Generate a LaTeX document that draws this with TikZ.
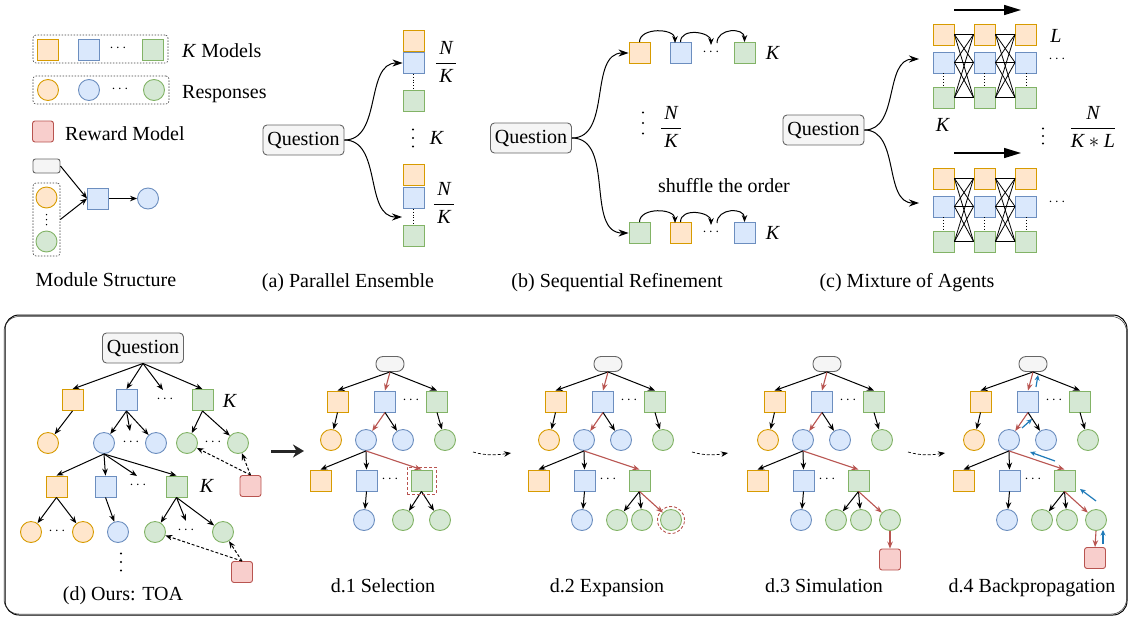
\documentclass[tikz,border=0pt]{standalone}
\usepackage{fontspec}
\setmainfont{Liberation Serif}
\usetikzlibrary{arrows.meta}
\definecolor{ofill}{HTML}{FFE6CC}\definecolor{oline}{HTML}{D79B00}
\definecolor{bfill}{HTML}{DAE8FC}\definecolor{bline}{HTML}{6C8EBF}
\definecolor{gfill}{HTML}{D5E8D4}\definecolor{gline}{HTML}{82B366}
\definecolor{rfill}{HTML}{F8CECC}\definecolor{rline}{HTML}{B85450}
\definecolor{qfill}{HTML}{F5F5F5}\definecolor{qline}{HTML}{666666}
\definecolor{bpblue}{HTML}{1F7AB8}

% three vertical dots drawn as small discs: x, y (centre), spacing, radius
\newcommand\vdotsat[4]{%
 \fill (#1,#2-#3) circle (#4pt);
 \fill (#1,#2) circle (#4pt);
 \fill (#1,#2+#3) circle (#4pt);}

% tree used in d.1 .. d.4 ; #1 prefix, #2 xshift, #3 variant
\newcommand\dtree[3]{%
\begin{scope}[xshift=#2pt]
 \node[pill] (#1r) at (390,364) {};
 \node[osq] (#1a) at (337.5,401.5) {};
 \node[bsq] (#1b) at (385,401.5) {};
 \node[dotx] (#1bd) at (411,400) {$\cdots$};
 \node[gsq] (#1c) at (437,401.5) {};
 \node[oc] (#1ao) at (331,440) {};
 \node[bc] (#1b1) at (366,440) {};
 \node[bc] (#1b2) at (403,440) {};
 \node[gc] (#1co) at (445,440) {};
 \node[osq] (#1d) at (320.5,480.5) {};
 \node[bsq] (#1e) at (366.5,480.5) {};
 \node[dotx] (#1ed) at (390,479) {$\cdots$};
 \node[gsq] (#1f) at (421.5,480.5) {};
 \node[bc] (#1eo) at (364,520) {};
 \draw[arr] (#1r.south) -- (#1a.north);
 \draw[rarr] (#1r.south) -- (#1b.north);
 \draw[arr] (#1r.south) -- (#1c.north);
 \draw[arr] (#1a.south) -- (#1ao);
 \draw[rarr] (#1b.south) -- (#1b1);
 \draw[arr] (#1b.south) -- (#1b2);
 \draw[arr] (#1c.south) -- (#1co);
 \draw[arr] (#1b1.south) -- (#1d.north);
 \draw[arr] (#1b1.south) -- (#1e.north);
 \draw[rarr] (#1b1.south) -- (#1f.north);
 \draw[arr] (#1e.south) -- (#1eo);
 \ifnum#3=0
  \node[gc] (#1f1) at (403,520) {};
  \node[gc] (#1f2) at (440,520) {};
  \draw[arr] (#1f.south) -- (#1f1);
  \draw[arr] (#1f.south) -- (#1f2);
 \else
  \node[gc] (#1f1) at (399,520) {};
  \node[gc] (#1f2) at (424,520) {};
  \node[gc] (#1f3) at (453,520) {};
  \draw[arr] (#1f.south) -- (#1f1);
  \draw[arr] (#1f.south) -- (#1f2);
  \draw[rarr] (#1f.south) -- (#1f3);
 \fi
\end{scope}}

% mixture-of-agents block ; #1 prefix, #2 y of first row
\newcommand\moablock[2]{%
 \foreach \colA/\xx in {1/943.5,2/984.5,3/1026}{
   \node[osq] (#1\colA o) at (\xx,#2) {};
   \node[bsq] (#1\colA b) at (\xx,#2+28) {};
   \node[gsq] (#1\colA g) at (\xx,#2+63) {};
   \draw[dotted, line width=0.8pt] (#1\colA b.south) -- (#1\colA g.north);
 }
 \foreach \colA/\colB in {1/2,2/3}{
   \foreach \rowA in {o,b,g}{
     \foreach \rowB in {o,b,g}{
       \draw[line width=0.8pt] (#1\colA\rowA.east) -- (#1\colB\rowB.west);
     }
   }
 }
}

\begin{document}
\begin{tikzpicture}[x=1pt,y=-1pt,font=\fontsize{20}{24}\selectfont,
 base/.style={draw, inner sep=0pt, line width=0.9pt},
 sqr/.style={base, minimum width=21pt, minimum height=21pt},
 osq/.style={sqr, fill=ofill, draw=oline},
 bsq/.style={sqr, fill=bfill, draw=bline},
 gsq/.style={sqr, fill=gfill, draw=gline},
 rsq/.style={sqr, fill=rfill, draw=rline, rounded corners=2.5pt},
 cir/.style={base, circle, minimum size=21pt},
 oc/.style={cir, fill=ofill, draw=oline},
 bc/.style={cir, fill=bfill, draw=bline},
 gc/.style={cir, fill=gfill, draw=gline},
 qbox/.style={draw=qline, fill=qfill, rounded corners=4pt, line width=0.9pt, minimum width=81pt, minimum height=30pt, inner sep=1pt},
 pill/.style={draw=qline, fill=qfill, rounded corners=7pt, line width=0.9pt, minimum width=28pt, minimum height=15pt, inner sep=0pt},
 dotx/.style={inner sep=0pt, font=\fontsize{15}{15}\selectfont},
 arr/.style={-{Stealth[length=7pt,width=5.5pt]}, line width=1pt},
 rarr/.style={arr, draw=rline, line width=1.1pt},
 barr/.style={-{Stealth[length=5.5pt,width=5pt]}, line width=1.2pt, draw=bpblue},
 darr/.style={arr, dash pattern=on 3pt off 2pt},
 dbox/.style={draw=black!75, dash pattern=on 1.5pt off 1.5pt, line width=0.6pt, rounded corners=3pt, inner sep=0pt},
 lab/.style={inner sep=0pt, anchor=base},
 labw/.style={inner sep=0pt, anchor=base west},
 curv/.style={-{Stealth[length=10pt,width=7pt]}, line width=1pt},
 moatop/.style={line width=1.5pt, -{Triangle[length=17pt,width=10pt]}}
]
\useasboundingbox (0,0) rectangle (1130,619);

% ---------------- legend ----------------
\node[dbox, minimum width=135pt, minimum height=28pt] (lgbox1) at (100.5,49) {};
\node[osq] (lgo) at (48,49.5) {};
\node[bsq] (lgb) at (89,49.5) {};
\node[dotx] (lgd1) at (118,48) {$\cdots$};
\node[gsq] (lgg) at (152.5,49.5) {};
\node[labw] (lgt1) at (182,57) {\textit{K} Models};

\node[dbox, minimum width=136pt, minimum height=28pt] (lgbox2) at (101,90) {};
\node[oc] (lgoc) at (48,90) {};
\node[bc] (lgbc) at (89,90) {};
\node[dotx] (lgd2) at (120,89) {$\cdots$};
\node[gc] (lggc) at (154,90) {};
\node[labw] (lgt2) at (182,98) {Responses};

\node[rsq] (lgr) at (43,131.5) {};
\node[labw] (lgt3) at (65,140) {Reward Model};

\node[pill, minimum width=27pt, minimum height=14pt, rounded corners=2.5pt] (mq) at (46.5,166) {};
\node[dbox, minimum width=27pt, minimum height=73pt] (mbox) at (46.5,219.5) {};
\node[oc] (moc) at (46.5,197.5) {};
\vdotsat{46.5}{219.5}{5}{0.75}
\node[gc] (mgc) at (46.5,241.5) {};
\node[bsq] (mb) at (98,198.5) {};
\node[bc] (mc) at (148,198.5) {};
\draw[arr] (mq.east) -- (mb.west);
\draw[arr] (mbox.east) -- (mb.west);
\draw[arr] (mb) -- (mc);
\node[lab] (mlab) at (106,286) {Module Structure};

% ---------------- (a) parallel ensemble ----------------
\node[qbox] (pq) at (303.5,140) {Question};
\node[osq] (pt1) at (413.5,40.5) {};
\node[bsq] (pt2) at (413.5,63) {};
\node[gsq] (pt3) at (413.5,101) {};
\draw[dotted, line width=0.8pt] (pt2.south) -- (pt3.north);
\node[inner sep=0pt] (pf1) at (446,62) {$\displaystyle\frac{\,\textit{N}\,}{\,\textit{K}\,}$};
\vdotsat{413}{138}{8.5}{1.2}
\node[inner sep=0pt] (pk) at (437,138) {\textit{K}};
\node[osq] (pb1) at (413.5,174.5) {};
\node[bsq] (pb2) at (413.5,198) {};
\node[gsq] (pb3) at (413.5,236) {};
\draw[dotted, line width=0.8pt] (pb2.south) -- (pb3.north);
\coordinate (pbend) at (402,217);
\node[inner sep=0pt] (pf2) at (444,203) {$\displaystyle\frac{\,\textit{N}\,}{\,\textit{K}\,}$};
\draw[curv] (pq.east) to[out=0,in=180] (pt2.west);
\draw[curv] (pq.east) to[out=0,in=180] (pbend);
\node[lab] (plab) at (348,287) {(a) Parallel Ensemble};

% ---------------- (b) sequential refinement ----------------
\node[qbox] (sq) at (531,138) {Question};
\node[osq] (so1) at (639.5,53) {};
\node[bsq] (so2) at (680.5,53) {};
\node[dotx] (sod) at (711,52) {$\cdots$};
\node[gsq] (so3) at (744.5,53) {};
\node[inner sep=0pt] (sk1) at (773,53) {\textit{K}};
\coordinate (st1) at (675,43);
\coordinate (st2) at (711,45);
\coordinate (st3) at (717,43);
\draw[arr] (so1.north) .. controls +(0,-15) and +(0,-15) .. (st1);
\draw[arr] (so2.north) .. controls +(0,-15) and +(0,-13) .. (st2);
\draw[arr] (st3) .. controls +(0,-15) and +(0,-15) .. (so3.north);

\node[gsq] (sb1) at (639.5,233) {};
\node[osq] (sb2) at (680.5,233) {};
\node[dotx] (sbd) at (711,232) {$\cdots$};
\node[bsq] (sb3) at (744.5,233) {};
\node[inner sep=0pt] (sk2) at (773,233) {\textit{K}};
\coordinate (sbt1) at (675,223);
\coordinate (sbt2) at (711,225);
\coordinate (sbt3) at (717,223);
\draw[arr] (sb1.north) .. controls +(0,-15) and +(0,-15) .. (sbt1);
\draw[arr] (sb2.north) .. controls +(0,-15) and +(0,-13) .. (sbt2);
\draw[arr] (sbt3) .. controls +(0,-15) and +(0,-15) .. (sb3.north);

\vdotsat{643}{123}{10.5}{1.2}
\node[inner sep=0pt] (sf) at (671,127) {$\displaystyle\frac{\,\textit{N}\,}{\,\textit{K}\,}$};
\node[lab] (sshuf) at (724,192) {shuffle the order};
\draw[curv] (sq.east) to[out=0,in=180] (so1.west);
\draw[curv] (sq.east) to[out=0,in=180] (sb1.west);
\node[lab] (slab) at (617,287) {(b) Sequential Refinement};

% ---------------- (c) mixture of agents ----------------
\node[qbox] (mqq) at (823.5,130) {Question};
\moablock{mt}{34.5}
\moablock{mb}{178.5}
\coordinate (mta1) at (954,10);
\coordinate (mta2) at (1021,10);
\draw[moatop] (mta1) -- (mta2);
\coordinate (mba1) at (954,153);
\coordinate (mba2) at (1021,153);
\draw[moatop] (mba1) -- (mba2);
\node[inner sep=0pt] (ml) at (1056,36) {\textit{L}};
\node[dotx] (mdt) at (1057,59) {$\cdots$};
\node[dotx] (mdb) at (1057,202) {$\cdots$};
\node[inner sep=0pt] (mk) at (943,125) {\textit{K}};
\vdotsat{1043}{136}{7.5}{1.2}
\node[inner sep=0pt] (mf) at (1093,127) {$\displaystyle\frac{\textit{N}}{\textit{K}\ast\textit{L}}$};
\coordinate (mend1) at (919,59);
\coordinate (mend2) at (919,203);
\draw[curv] (mqq.east) to[out=0,in=180] (mend1);
\draw[curv] (mqq.east) to[out=0,in=180] (mend2);
\node[lab] (mlab2) at (907,287) {(c) Mixture of Agents};

% ---------------- (d) frame ----------------
\draw[line width=1pt, rounded corners=14pt] (5,315) rectangle (1127,615);
\draw[line width=0.5pt, rounded corners=15pt, black!80] (4,316.5) rectangle (1126.5,614);

% ---------------- (d) TOA ----------------
\node[qbox] (tq) at (143,348) {Question};
\node[osq] (t1a) at (72.5,400) {};
\node[bsq] (t1b) at (126.5,400) {};
\coordinate (t1d) at (163,390);
\node[dotx] (t1dt) at (165,399) {$\cdots$};
\node[gsq] (t1c) at (202.5,400) {};
\node[inner sep=0pt] (tk1) at (230,401) {\textit{K}};

\node[oc] (t2a) at (48,443) {};
\node[bc] (t2b1) at (104,443) {};
\node[dotx] (t2bdt) at (131,442) {$\cdots$};
\coordinate (t2bd) at (130,431);
\node[bc] (t2b2) at (156,443) {};
\node[gc] (t2c1) at (187,443) {};
\node[dotx] (t2cdt) at (213,442) {$\cdots$};
\node[gc] (t2c2) at (238,443) {};
\node[rsq] (tr1) at (250.5,486) {};

\node[osq] (t3a) at (56.5,486.5) {};
\node[bsq] (t3b) at (105.5,486.5) {};
\node[dotx] (t3bdt) at (138,485) {$\cdots$};
\coordinate (t3bd) at (137,476);
\node[gsq] (t3c) at (176.5,486.5) {};
\node[inner sep=0pt] (tk2) at (207,486) {\textit{K}};

\node[oc] (t4a1) at (31,532) {};
\node[dotx] (t4adt) at (57,531) {$\cdots$};
\node[oc] (t4a2) at (83,532) {};
\node[bc] (t4b) at (118,532) {};
\node[gc] (t4c1) at (155,532) {};
\node[dotx] (t4cdt) at (186,530) {$\cdots$};
\coordinate (t4cd) at (186,521);
\node[gc] (t4c2) at (223,532) {};
\node[rsq] (tr2) at (242,572) {};
\vdotsat{121}{562}{8.5}{1.2}

\draw[arr] (tq.south) -- (t1a.north);
\draw[arr] (tq.south) -- (t1b.north);
\draw[arr] (tq.south) -- (t1d);
\draw[arr] (tq.south) -- (t1c.north);
\draw[arr] (t1a.south) -- (t2a);
\draw[arr] (t1b.south) -- (t2b1);
\draw[arr] (t1b.south) -- (t2bd);
\draw[arr] (t1b.south) -- (t2b2);
\draw[arr] (t1c.south) -- (t2c1);
\draw[arr] (t1c.south) -- (t2c2);
\draw[arr] (t2b1.south) -- (t3a.north);
\draw[arr] (t2b1.south) -- (t3b.north);
\draw[arr] (t2b1.south) -- (t3bd);
\draw[arr] (t2b1.south) -- (t3c.north);
\draw[arr] (t3a.south) -- (t4a1);
\draw[arr] (t3a.south) -- (t4a2);
\draw[arr] (t3b.south) -- (t4b);
\draw[arr] (t3c.south) -- (t4c1);
\draw[arr] (t3c.south) -- (t4cd);
\draw[arr] (t3c.south) -- (t4c2);
\draw[darr] (tr1.north) -- (t2c1);
\draw[darr] (tr1.north) -- (t2c2);
\draw[darr] (tr2.north) -- (t4c1);
\draw[darr] (tr2.north) -- (t4c2);
\node[lab] (tlab) at (123,600) {(d) Ours: TOA};

\coordinate (ba1) at (271,451);
\coordinate (ba2) at (304,451);
\draw[line width=3pt, black!85, -{Stealth[length=11pt,width=13pt]}] (ba1) -- (ba2);

% ---------------- d.1 .. d.4 ----------------
\dtree{da}{0}{0}
\node[draw=rline, dash pattern=on 3pt off 2pt, line width=0.9pt, minimum width=29pt, minimum height=27pt, inner sep=0pt] (dasel) at (421.5,480.5) {};
\node[lab] (dalab) at (383,592) {d.1 Selection};

\dtree{db}{218}{1}
\node[draw=rline, circle, dash pattern=on 3pt off 2pt, line width=0.9pt, minimum size=27pt, inner sep=0pt] (dbsel) at (671,520) {};
\node[lab] (dblab) at (607,592) {d.2 Expansion};

\dtree{dc}{437}{1}
\node[rsq] (dcrs) at (890,559.5) {};
\draw[rarr] (dcf3.south) -- (dcrs.north);
\node[lab] (dclab) at (824,592) {d.3 Simulation};

\dtree{dd}{643}{1}
\node[rsq] (ddrs) at (1095,558) {};
\draw[rarr] (ddf3.south) -- (ddrs.north);
\node[lab] (ddlab) at (1032,592) {d.4 Backpropagation};
\coordinate (bp1a) at (1036,387); \coordinate (bp1b) at (1038,375);
\coordinate (bp2a) at (1022,428); \coordinate (bp2b) at (1032,419);
\coordinate (bp3a) at (1055,461); \coordinate (bp3b) at (1030,452);
\coordinate (bp4a) at (1096,501); \coordinate (bp4b) at (1080,489);
\coordinate (bp5a) at (1103,544); \coordinate (bp5b) at (1103,530);
\draw[barr] (bp1a) -- (bp1b);
\draw[barr] (bp2a) -- (bp2b);
\draw[barr] (bp3a) -- (bp3b);
\draw[barr] (bp4a) -- (bp4b);
\draw[barr] (bp5a) -- (bp5b);

% dashed transitions
\coordinate (tr12a) at (473,452); \coordinate (tr12b) at (511,453);
\coordinate (tr23a) at (692,452); \coordinate (tr23b) at (728,453);
\coordinate (tr34a) at (908,452); \coordinate (tr34b) at (945,453);
\draw[darr, line width=0.7pt] (tr12a) .. controls (487,456) and (497,455) .. (tr12b);
\draw[darr, line width=0.7pt] (tr23a) .. controls (706,456) and (716,455) .. (tr23b);
\draw[darr, line width=0.7pt] (tr34a) .. controls (922,456) and (932,455) .. (tr34b);
\end{tikzpicture}
\end{document}
